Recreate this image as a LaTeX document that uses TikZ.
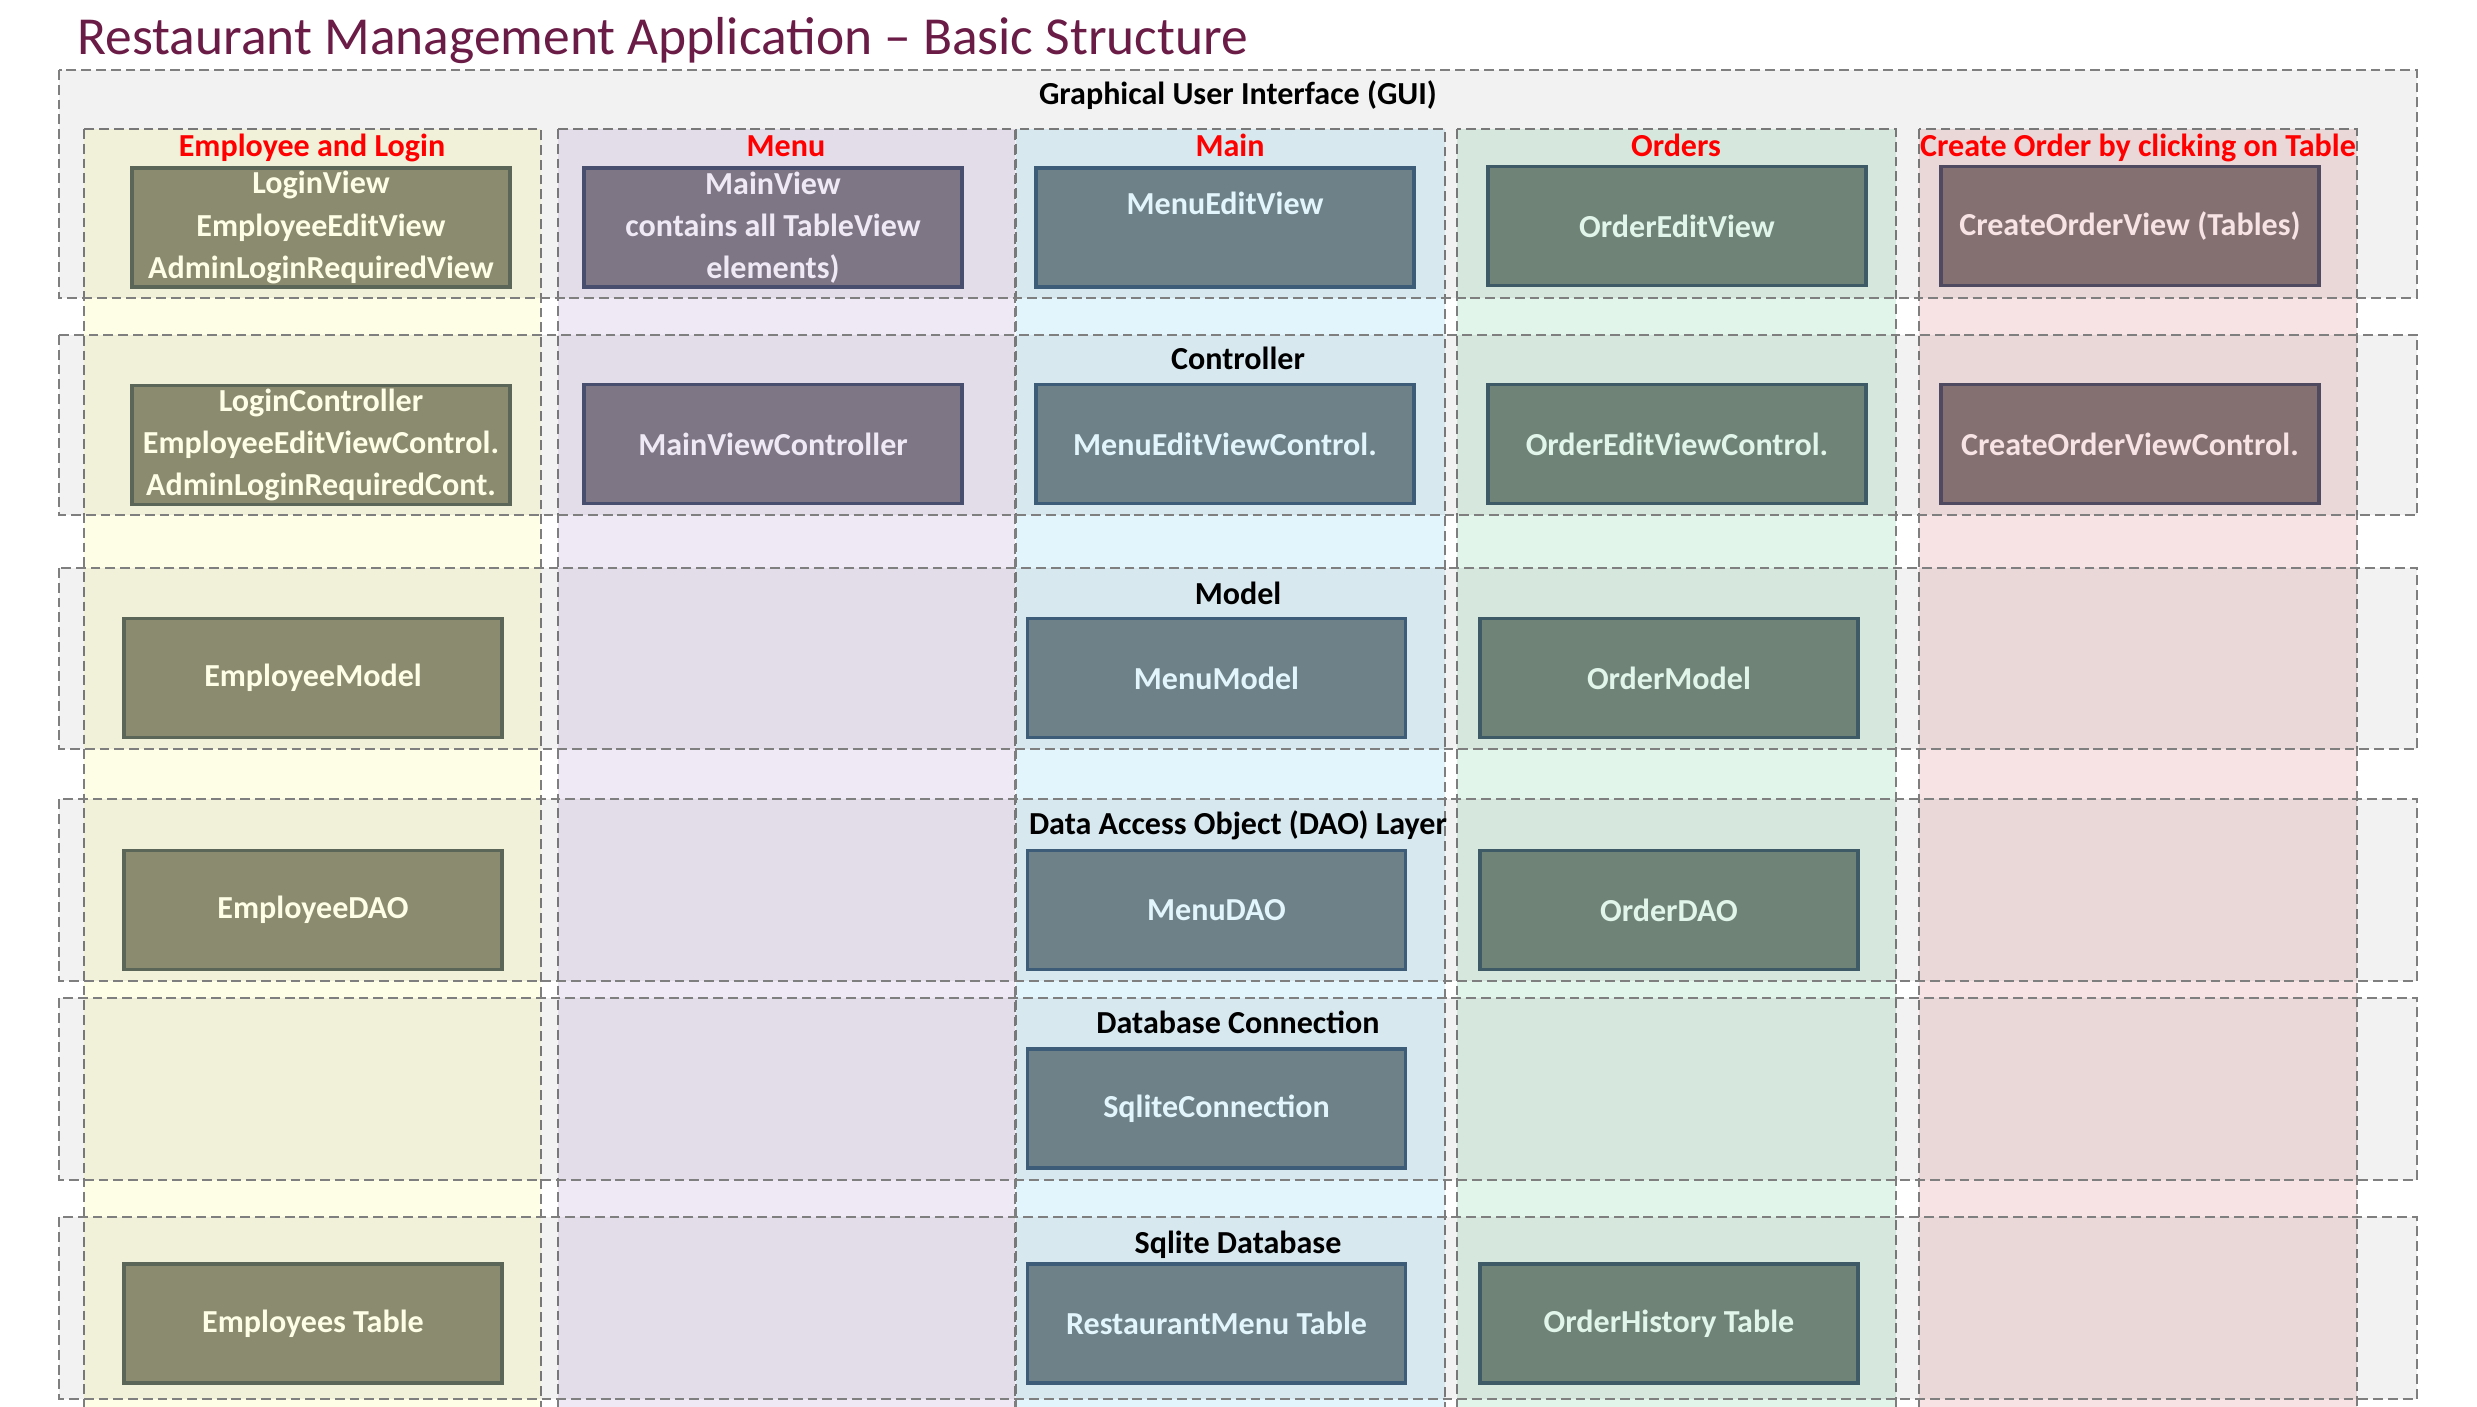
\documentclass[tikz,border=0pt]{standalone}
\usepackage{fontspec}
\setmainfont{Carlito}
\usepackage{tikz}

\definecolor{titlecol}{HTML}{6A1B46}
\definecolor{dashgray}{HTML}{7F7F7F}
\definecolor{ecol}{HTML}{FEFEE6}
\definecolor{mcol}{HTML}{EFE9F5}
\definecolor{ncol}{HTML}{E3F5FC}
\definecolor{ocol}{HTML}{E2F5EA}
\definecolor{ccol}{HTML}{F7E3E3}
\definecolor{efill}{HTML}{8B8B70}
\definecolor{eline}{HTML}{5B6558}
\definecolor{mfill}{HTML}{7E7585}
\definecolor{mline}{HTML}{474E6E}
\definecolor{nfill}{HTML}{6E8088}
\definecolor{nline}{HTML}{3D5C77}
\definecolor{ofill}{HTML}{6F8377}
\definecolor{oline}{HTML}{3E5A66}
\definecolor{cfill}{HTML}{847070}
\definecolor{cline}{HTML}{4F4A60}

\begin{document}
\begin{tikzpicture}[x=0.01cm, y=-0.01cm,
  dashes/.style={draw=dashgray, line width=0.6pt, dash pattern=on 2.8pt off 1.4pt},
  lane/.style={dashes},
  layer/.style={dashes, fill=black, fill opacity=0.05},
  head/.style={anchor=base, inner sep=0pt, font=\bfseries\fontsize{9.12}{12}\selectfont},
  box/.style={shape=rectangle, line width=1pt, minimum width=3.78cm, minimum height=1.19cm,
    inner sep=0pt, align=center, font=\bfseries\fontsize{9.12}{12}\selectfont},
  ebox/.style={box, fill=efill, draw=eline, text=ecol},
  mbox/.style={box, fill=mfill, draw=mline, text=mcol},
  nbox/.style={box, fill=nfill, draw=nline, text=ncol},
  obox/.style={box, fill=ofill, draw=oline, text=ocol},
  cbox/.style={box, fill=cfill, draw=cline, text=ccol}]
  \clip (0, 0) rectangle (2477, 1407);
  \fill[white] (0, 0) rectangle (2477, 1407);

  \node (title) at (77, 55) [anchor=base west, inner sep=0pt, text=titlecol,
    font=\fontsize{15.2}{18}\selectfont] {Restaurant Management Application – Basic Structure};

  % columns
  \draw[lane, fill=ecol] (84, 129) rectangle (541, 1420);
  \draw[lane, fill=mcol] (558, 129) rectangle (1015, 1420);
  \draw[lane, fill=ncol] (1016, 129) rectangle (1445, 1420);
  \draw[lane, fill=ocol] (1457, 129) rectangle (1896, 1420);
  \draw[lane, fill=ccol] (1919, 129) rectangle (2357, 1420);

  % layers
  \draw[layer] (59, 70) rectangle (2417, 298);
  \draw[layer] (59, 335) rectangle (2417, 515);
  \draw[layer] (59, 568) rectangle (2417, 749);
  \draw[layer] (59, 799) rectangle (2417, 981);
  \draw[layer] (59, 998) rectangle (2417, 1180);
  \draw[layer] (59, 1217) rectangle (2417, 1399);

  \node (gui) at (1238, 105) [head] {Graphical User Interface (GUI)};
  \node (ctrl) at (1238, 370) [head] {Controller};
  \node (model) at (1238, 604.7) [head] {Model};
  \node (dao) at (1238, 834.7) [head] {Data Access Object (DAO) Layer};
  \node (conn) at (1238, 1033.8) [head] {Database Connection};
  \node (db) at (1238, 1253.3) [head] {Sqlite Database};

  \node (ehead) at (312, 157) [head, text=red] {Employee and Login};
  \node (mhead) at (786, 157) [head, text=red] {Menu};
  \node (nhead) at (1230, 157) [head, text=red] {Main};
  \node (ohead) at (1676, 157) [head, text=red] {Orders};
  \node (chead) at (2138, 157) [head, text=red] {Create Order by clicking on Table};

  \node (1x1) at (321, 227.5) [ebox] {LoginView\\EmployeeEditView\\AdminLoginRequiredView};
  \node (1x2) at (773, 227.5) [mbox] {MainView\\contains all TableView\\elements)};
  \node (1x3) at (1225, 227.5) [nbox] {\raisebox{7pt}[\height][\depth]{MenuEditView}};
  \node (1x4) at (1677, 226) [obox] {OrderEditView};
  \node (1x5) at (2130, 226) [cbox] {CreateOrderView (Tables)};

  \node (2x1) at (321, 445) [ebox] {LoginController\\EmployeeEditViewControl.\\AdminLoginRequiredCont.};
  \node (2x2) at (773, 444) [mbox] {MainViewController};
  \node (2x3) at (1225, 444) [nbox] {MenuEditViewControl.};
  \node (2x4) at (1677, 444) [obox] {OrderEditViewControl.};
  \node (2x5) at (2130, 444) [cbox] {CreateOrderViewControl.};

  \node (3x1) at (313, 678) [ebox] {EmployeeModel};
  \node (3x3) at (1216.5, 678) [nbox] {MenuModel};
  \node (3x4) at (1669, 678) [obox] {OrderModel};

  \node (4x1) at (313, 910) [ebox] {EmployeeDAO};
  \node (4x3) at (1216.5, 910) [nbox] {MenuDAO};
  \node (4x4) at (1669, 910) [obox] {OrderDAO};

  \node (5x3) at (1216.5, 1108.5) [nbox] {SqliteConnection};

  \node (6x1) at (313, 1323.5) [ebox] {Employees Table};
  \node (6x3) at (1216.5, 1323.5) [nbox] {RestaurantMenu Table};
  \node (6x4) at (1669, 1323.5) [obox] {OrderHistory Table};
\end{tikzpicture}
\end{document}
